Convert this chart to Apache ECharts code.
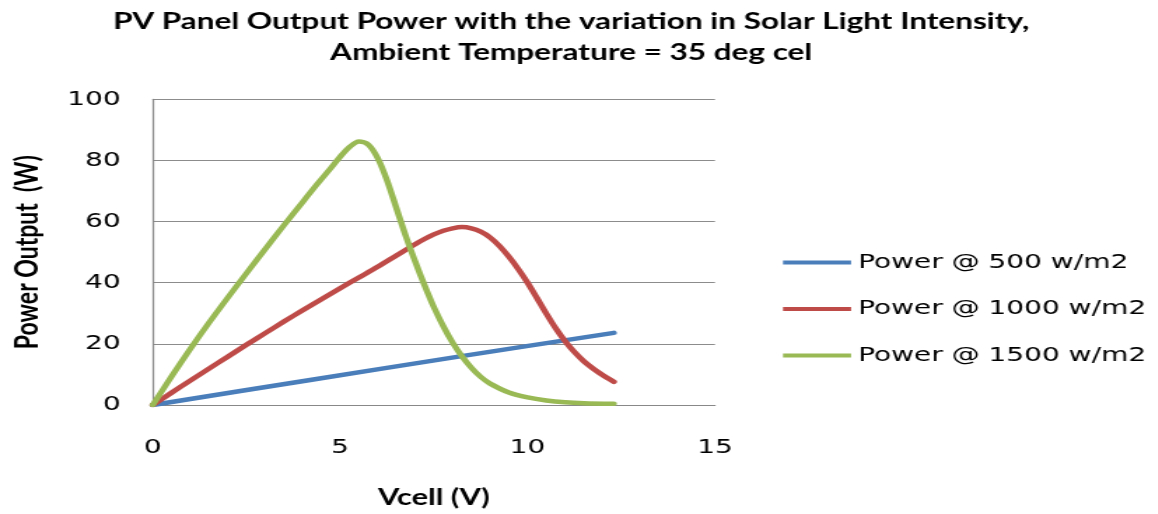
<!DOCTYPE html>
<html>
<head>
<meta charset="utf-8">
<script src="https://cdn.jsdelivr.net/npm/echarts@6/dist/echarts.min.js"></script>
<style>
html,body{margin:0;padding:0;background:#fff;overflow:hidden;}
#wrap{width:1158px;height:514px;overflow:hidden;}
#chart{width:827px;height:514px;transform:scaleX(1.4);transform-origin:0 0;}
</style>
</head>
<body>
<div id="wrap"><div id="chart"></div></div>
<script>
// Data (Vcell in V, power in W)
const vcell500  = [0, 4.2, 8.2, 12.3];
const power500  = [0, 8.2, 15.9, 23.6];
const vcell1000 = [0, 0.5, 1, 1.5, 2, 2.5, 3, 3.5, 4, 4.5, 5, 5.5, 6, 6.5, 7, 7.25, 7.5, 7.75, 8, 8.25, 8.5, 8.75, 9, 9.25, 9.5, 9.75, 10, 10.25, 10.5, 10.75, 11, 11.25, 11.5, 11.75, 12, 12.3];
const power1000 = [0, 4.0, 8.0, 11.9, 15.8, 19.7, 23.5, 27.3, 31.0, 34.6, 38.2, 41.7, 45.2, 48.9, 52.6, 54.3, 55.8, 57.0, 57.8, 58.2, 57.8, 56.7, 54.8, 52.0, 48.5, 44.5, 40.0, 35.0, 29.9, 25.1, 20.9, 17.3, 14.3, 11.9, 9.8, 7.6];
const vcell1500 = [0, 0.5, 1, 1.5, 2, 2.5, 3, 3.5, 4, 4.25, 4.5, 4.75, 5, 5.25, 5.5, 5.75, 6, 6.25, 6.5, 6.75, 7, 7.25, 7.5, 7.75, 8, 8.25, 8.5, 8.75, 9, 9.5, 10, 10.5, 11, 11.5, 12.3];
const power1500 = [0, 9.3, 18.3, 26.9, 35.1, 43.1, 51.0, 58.8, 66.4, 70.2, 73.9, 77.5, 81.2, 84.4, 86.2, 85.2, 80.8, 73.5, 64.4, 55.3, 47.0, 39.2, 32.0, 25.8, 20.4, 15.9, 12.2, 9.2, 7.0, 4.1, 2.5, 1.5, 0.9, 0.6, 0.4];
const seriesNames = ['Power @ 500 w/m2', 'Power @ 1000 w/m2', 'Power @ 1500 w/m2'];
const seriesColors = ['#4A7EBB', '#BE4B48', '#98B954'];
const xTicks = [0, 5, 10, 15];
const yTicks = [0, 20, 40, 60, 80, 100];

const chart = echarts.init(document.getElementById('chart'));
const xs = [vcell500, vcell1000, vcell1500];
const ys = [power500, power1000, power1500];
const pairs = i => xs[i].map((x, k) => [x, ys[i][k]]);

chart.setOption({
  animation: false,
  backgroundColor: '#ffffff',
  title: {
    text: 'PV Panel Output Power with the variation in Solar Light Intensity,\nAmbient Temperature = 35 deg cel',
    left: 408,
    textAlign: 'center',
    top: 6,
    padding: 0,
    textStyle: {fontFamily: 'Lato', fontWeight: 'bold', fontSize: 22.5, lineHeight: 31, color: '#000'}
  },
  grid: {left: 109.1, right: 316.3, top: 99.3, bottom: 108.7},
  legend: {
    orient: 'vertical',
    left: 559.3,
    top: 252.5,
    itemWidth: 48.6,
    itemHeight: 4,
    itemGap: 26.5,
    icon: 'rect',
    padding: 0,
    textStyle: {fontFamily: 'DejaVu Sans', fontSize: 20, color: '#000'},
    data: seriesNames
  },
  xAxis: {
    type: 'value',
    min: xTicks[0], max: xTicks[xTicks.length - 1], interval: 5,
    name: 'Vcell (V)',
    nameLocation: 'middle',
    nameGap: 82,
    nameTextStyle: {fontFamily: 'Lato', fontWeight: 'bold', fontSize: 22, color: '#000'},
    axisLine: {show: true, lineStyle: {color: '#888888', width: 1.2}},
    axisTick: {show: false},
    splitLine: {show: false},
    axisLabel: {margin: 33, fontFamily: 'DejaVu Sans', fontSize: 20, color: '#000'}
  },
  yAxis: {
    type: 'value',
    min: yTicks[0], max: yTicks[yTicks.length - 1], interval: 20,
    name: 'Power Output  (W)',
    nameLocation: 'middle',
    nameGap: 78,
    nameTextStyle: {fontFamily: 'Lato', fontWeight: 'bold', fontSize: 23, color: '#000'},
    axisLine: {show: true, lineStyle: {color: '#888888', width: 1.2}},
    axisTick: {show: false},
    splitLine: {show: true, lineStyle: {color: '#8c8c8c', width: 1}},
    axisLabel: {margin: 23, fontFamily: 'DejaVu Sans', fontSize: 20, color: '#000'}
  },
  series: seriesNames.map((n, i) => ({
    name: n,
    type: 'line',
    data: pairs(i),
    smooth: 0.3,
    symbol: 'none',
    color: seriesColors[i],
    lineStyle: {width: 4.5, color: seriesColors[i], cap: 'round', join: 'round'},
    z: 2 + i
  }))
});
</script>
</body>
</html>
